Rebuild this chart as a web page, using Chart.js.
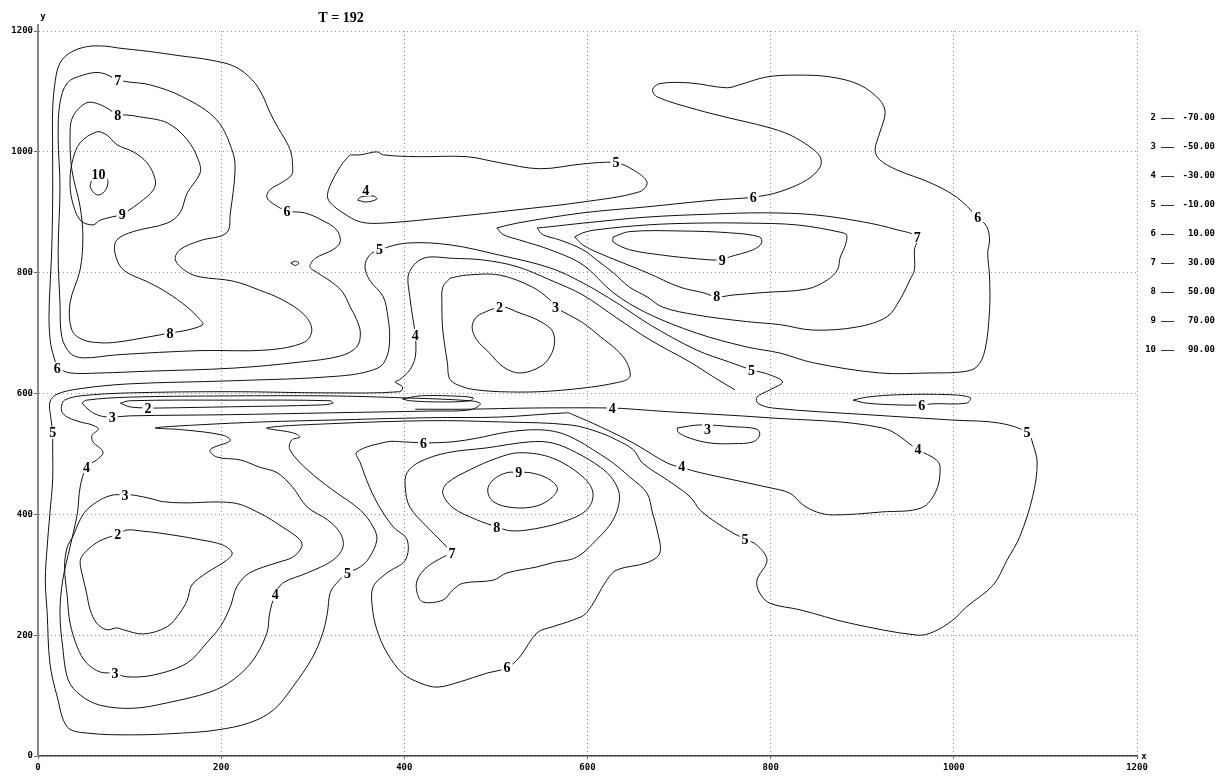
<!DOCTYPE html>
<html>
<head>
<meta charset="utf-8">
<script src="https://cdn.jsdelivr.net/npm/chart.js@4.4.0/dist/chart.umd.min.js"></script>
<style>
  html, body { margin: 0; padding: 0; background: #fff; }
</style>
</head>
<body>
<canvas id="chart" width="1226" height="777"></canvas>
<script>
// contour levels and the values they stand for
const levels = [2, 3, 4, 5, 6, 7, 8, 9, 10];
const levelValues = ["-70.00", "-50.00", "-30.00", "-10.00", "10.00", "30.00", "50.00", "70.00", "90.00"];
const titleText = "T = 192";

// contour lines, [x, y] in data units
const c6TopLeft = [[21,642],[19,652],[14,681],[12,723],[13,773],[15,839],[16,921],[16,1003],[16,1070],[19,1119],[24,1147],[35,1164],[53,1174],[73,1175],[87,1172],[122,1166],[155,1159],[188,1152],[215,1141],[234,1119],[245,1094],[253,1066],[262,1040],[270,1020],[276,1000],[278,978],[277,962],[266,949],[253,937],[250,924],[259,912],[272,902],[291,899],[310,887],[326,871],[330,851],[322,838],[303,824],[297,810],[305,800],[322,783],[333,767],[341,743],[348,722],[352,700],[348,677],[330,662],[286,652],[213,642],[122,637],[68,634],[35,634]];
const c7TopLeft = [[87,1119],[97,1116],[122,1111],[158,1091],[195,1053],[213,998],[215,965],[210,899],[206,866],[177,853],[155,838],[150,821],[163,801],[177,793],[213,786],[242,771],[267,755],[291,730],[299,705],[291,685],[250,672],[177,671],[86,664],[49,659],[35,667],[26,694],[24,750],[22,833],[24,942],[22,1025],[24,1081],[32,1114],[49,1127],[68,1131]];
const c8TopLeft = [[87,1061],[97,1061],[111,1058],[141,1048],[163,1020],[175,987],[177,965],[163,932],[155,899],[141,882],[104,868],[86,854],[84,833],[93,805],[122,783],[141,767],[163,743],[177,722],[180,714],[163,705],[144,700],[122,694],[86,685],[68,684],[49,689],[37,705],[35,750],[46,805],[49,859],[46,909],[37,970],[35,1025],[38,1058],[53,1081],[68,1078]];
const c9TopLeft = [[92,896],[97,901],[111,916],[126,937],[128,954],[119,982],[104,1000],[86,1012],[75,1028],[64,1033],[46,1015],[38,987],[35,954],[37,921],[46,887],[60,879],[68,887]];
const c10TopLeft = [[59,954],[57,942],[64,929],[71,932],[76,945],[75,957],[66,960]];
const cTiny = [[276,816],[281,819],[285,816],[281,812]];
const c4Small = [[349,920],[359,917],[370,922],[366,927],[352,925]];
const c5Upper = [[341,995],[352,995],[370,1000],[377,995],[414,992],[468,992],[504,982],[548,972],[595,980],[631,982],[650,970],[665,950],[657,934],[595,917],[523,904],[450,892],[377,882],[352,884],[333,899],[319,916],[316,929],[322,954],[333,982]];
const c6UpperRight = [[501,874],[523,882],[595,899],[665,909],[737,920],[781,925],[810,934],[840,954],[854,975],[854,992],[843,1008],[821,1028],[796,1041],[755,1056],[719,1070],[676,1091],[671,1103],[679,1113],[712,1114],[752,1106],[766,1111],[796,1124],[829,1127],[865,1124],[897,1111],[919,1086],[925,1065],[919,1031],[914,1003],[919,987],[938,970],[974,949],[1003,925],[1026,892],[1036,876],[1039,854],[1037,833],[1039,793],[1039,738],[1034,672],[1025,644],[1010,636],[974,634],[919,634],[846,651],[810,667],[774,677],[719,700],[665,733],[628,767],[595,813],[559,838],[526,854],[508,863]];
const c7Right = [[545,874],[559,876],[595,882],[665,892],[737,897],[791,899],[846,896],[901,884],[938,871],[960,859],[957,838],[957,805],[952,788],[941,755],[927,727],[894,710],[846,705],[810,714],[774,719],[719,730],[682,743],[665,760],[646,776],[628,800],[610,821],[595,838],[570,854],[551,863]];
const c8Right = [[586,859],[595,866],[610,871],[665,879],[719,882],[774,882],[829,879],[876,867],[883,862],[881,843],[876,826],[873,805],[862,788],[840,773],[791,767],[759,763],[741,760],[726,767],[701,776],[665,800],[639,816],[610,834],[595,846]];
const c9Right = [[628,859],[646,868],[701,869],[755,866],[788,859],[790,849],[781,838],[755,826],[747,821],[719,823],[682,829],[646,838],[628,851]];
const c2Mid = [[493,738],[479,727],[474,710],[479,689],[493,667],[508,644],[526,634],[548,644],[559,661],[564,684],[561,705],[545,722],[523,735],[512,742],[504,743]];
const c3Mid = [[450,791],[468,796],[504,796],[540,776],[559,755],[565,743],[595,717],[614,694],[632,672],[643,651],[646,627],[632,618],[595,609],[548,603],[504,603],[479,606],[464,611],[450,623],[447,651],[442,705],[441,750],[442,776]];
const c5Big = [[779,639],[755,652],[719,672],[668,714],[632,750],[595,783],[559,808],[504,829],[450,846],[403,849],[373,838],[362,829],[357,810],[362,788],[377,760],[382,727],[384,694],[381,661],[371,642],[330,629],[210,621],[100,616],[46,608],[21,599],[13,586],[14,560],[16,535],[16,512],[16,457],[13,402],[10,346],[8,291],[10,237],[13,154],[21,98],[32,48],[53,38],[104,35],[158,38],[195,43],[231,55],[257,76],[278,114],[300,164],[311,204],[316,237],[319,270],[326,286],[338,303],[352,313],[362,329],[370,358],[366,379],[352,407],[322,440],[294,474],[275,507],[277,523],[286,528],[278,535],[250,543],[319,550],[428,555],[504,553],[581,548],[614,535],[632,523],[650,507],[660,485],[687,457],[712,429],[723,407],[741,386],[759,369],[772,359],[785,349],[796,324],[785,291],[788,270],[799,253],[832,242],[886,220],[960,200],[977,205],[999,225],[1014,247],[1043,283],[1058,324],[1072,363],[1086,429],[1091,485],[1086,518],[1081,535],[1050,551],[999,556],[905,565],[802,576],[786,584],[785,594],[799,606],[813,619],[799,631]];
const c4Long = [[761,606],[739,626],[712,652],[668,689],[632,725],[595,763],[559,788],[523,810],[486,821],[450,824],[428,826],[417,821],[409,810],[404,793],[406,760],[409,727],[412,697],[412,661],[406,639],[395,623],[390,619],[398,611],[395,603],[319,601],[210,603],[100,601],[46,596],[29,589],[26,581],[26,570],[32,561],[46,553],[59,548],[66,541],[59,531],[60,520],[71,503],[64,490],[53,478],[46,445],[43,402],[35,346],[27,291],[24,237],[27,180],[33,126],[46,101],[68,84],[104,79],[141,88],[188,106],[213,126],[235,159],[250,204],[253,237],[259,267],[267,286],[294,303],[322,324],[333,346],[330,369],[316,391],[294,412],[278,445],[261,469],[242,478],[221,490],[195,495],[188,507],[210,522],[202,531],[158,540],[128,543],[174,548],[246,553],[319,556],[428,560],[504,561],[578,568],[584,565],[614,545],[650,518],[687,485],[704,477],[723,469],[796,445],[821,435],[835,416],[850,404],[868,399],[922,404],[965,411],[981,440],[985,478],[981,490],[961,507],[922,543],[796,560],[687,570],[650,574],[627,576],[540,576],[468,574],[412,574]];
const c3Band = [[48,584],[53,589],[100,594],[210,596],[319,596],[395,593],[472,588],[483,583],[472,573],[428,571],[319,568],[210,565],[100,563],[81,561],[68,563],[57,571]];
const c2Band = [[90,584],[100,588],[210,589],[319,588],[322,584],[308,581],[210,578],[133,576],[120,576],[100,578]];
const cBandLoop = [[398,591],[417,596],[450,596],[475,593],[472,588],[439,586],[406,588]];
const c2LowLeft = [[87,366],[97,374],[115,372],[133,369],[177,358],[202,349],[212,336],[206,324],[184,303],[168,283],[163,258],[155,237],[141,214],[115,202],[93,209],[86,212],[75,209],[64,220],[57,242],[53,270],[49,296],[46,320],[49,333],[64,353],[79,363]];
const c3LowLeft = [[95,432],[104,432],[126,425],[136,421],[158,419],[213,419],[242,402],[267,379],[286,358],[288,346],[278,329],[261,320],[231,303],[217,280],[210,247],[199,214],[184,187],[163,154],[126,134],[97,131],[84,137],[68,139],[53,154],[43,180],[35,220],[32,263],[29,313],[32,346],[38,363],[46,391],[53,407],[68,424],[82,432]];
const c6Mid = [[421,518],[453,520],[479,526],[512,536],[545,540],[570,535],[592,520],[610,503],[628,485],[646,462],[665,435],[671,402],[676,374],[679,336],[665,320],[632,308],[621,291],[599,237],[584,225],[562,214],[545,204],[526,164],[512,146],[490,137],[461,123],[436,114],[417,121],[398,137],[381,171],[370,209],[365,247],[366,280],[381,303],[401,324],[403,358],[388,379],[373,412],[362,445],[352,485],[348,503],[381,520],[398,520]];
const c7Mid = [[452,336],[442,353],[425,379],[406,412],[401,445],[403,469],[417,487],[447,502],[490,510],[537,520],[562,518],[588,502],[614,478],[628,457],[635,429],[628,391],[610,358],[588,329],[562,320],[545,313],[512,303],[497,291],[464,286],[453,275],[442,258],[420,255],[414,270],[414,291],[425,313],[442,329]];
const c8Mid = [[501,379],[479,391],[453,411],[442,435],[447,452],[472,474],[501,493],[526,502],[562,493],[595,462],[606,435],[599,407],[570,386],[534,374],[515,373]];
const c9Mid = [[525,469],[512,469],[497,457],[491,440],[497,421],[519,411],[545,414],[562,429],[567,444],[556,460],[537,469]];
const c3Right = [[698,543],[723,548],[759,545],[785,541],[788,531],[781,520],[759,517],[734,518],[712,526],[699,536]];
const c6Right = [[890,589],[905,594],[941,598],[996,598],[1018,593],[1014,584],[977,583],[965,581],[941,581],[905,584]];

// which lines are closed loops
const closedLines = [c6TopLeft, c7TopLeft, c8TopLeft, c9TopLeft, c10TopLeft, cTiny, c4Small, c5Upper,
  c6UpperRight, c7Right, c8Right, c9Right, c2Mid, c3Mid, c5Big, c3Band, c2Band, cBandLoop,
  c2LowLeft, c3LowLeft, c6Mid, c7Mid, c8Mid, c9Mid, c3Right, c6Right];
const openLines = [c4Long];

// contour labels: level and position
const labelLevel = [6,7,8,10,9,6,8,4,5,6,6,7,9,8,5,4,2,3,5,2,3,4,6,3,5,5,6,4,4,4,9,3,8,2,5,7,5,4,3,6];
const labelX = [21,87,87,66,92,272,144,358,631,781,1026,960,747,741,373,412,504,565,779,120,81,627,965,731,16,1080,421,961,53,703,525,95,501,87,772,452,338,259,84,512];
const labelY = [642,1119,1061,962,896,902,700,937,982,925,892,859,821,760,838,697,743,743,639,576,561,576,581,541,535,536,518,507,478,479,469,432,379,366,359,336,303,267,137,146];

function toPoints(arr, closed) {
  const pts = arr.map(p => ({ x: p[0], y: p[1] }));
  if (closed) pts.push({ x: arr[0][0], y: arr[0][1] });
  return pts;
}

function lineSet(arr, closed) {
  return {
    data: toPoints(arr, closed),
    showLine: true,
    borderColor: "#111",
    backgroundColor: "#111",
    borderWidth: 1,
    pointRadius: 0,
    tension: 0.35,
    fill: false
  };
}

const datasets = [];
closedLines.forEach(a => datasets.push(lineSet(a, true)));
openLines.forEach(a => datasets.push(lineSet(a, false)));

// labels, title, legend
const annotate = {
  id: "annotate",
  afterDatasetsDraw(chart) {
    const ctx = chart.ctx;
    const xs = chart.scales.x, ys = chart.scales.y;
    ctx.save();
    ctx.font = "bold 14px 'Liberation Serif'";
    ctx.textAlign = "center";
    ctx.textBaseline = "middle";
    labelLevel.forEach((lv, i) => {
      const px = xs.getPixelForValue(labelX[i]);
      const py = ys.getPixelForValue(labelY[i]);
      const t = String(lv);
      const w = ctx.measureText(t).width;
      ctx.fillStyle = "#fff";
      ctx.fillRect(px - w / 2 - 2, py - 6, w + 4, 12);
      ctx.fillStyle = "#000";
      ctx.fillText(t, px, py + 1);
    });

    // title
    ctx.font = "bold 14px 'Liberation Serif'";
    ctx.fillText(titleText, 341, 18);

    // axis names
    ctx.font = "bold 9px 'DejaVu Sans Mono'";
    ctx.fillText("y", xs.left + 5, 17);
    ctx.fillText("x", xs.right + 7, ys.bottom + 1);

    // little axis extension above the top
    ctx.strokeStyle = "#888";
    ctx.lineWidth = 2;
    ctx.beginPath();
    ctx.moveTo(xs.left, ys.top);
    ctx.lineTo(xs.left, ys.top - 7);
    ctx.stroke();

    // level legend on the right
    ctx.font = "bold 9px 'DejaVu Sans Mono'";
    ctx.fillStyle = "#000";
    levels.forEach((lv, i) => {
      const yy = 118 + i * 29;
      ctx.textAlign = "right";
      ctx.fillText(String(lv), 1156, yy);
      ctx.fillText(levelValues[i], 1215, yy);
      ctx.strokeStyle = "#333";
      ctx.lineWidth = 1;
      ctx.beginPath();
      ctx.moveTo(1161, yy + 0.5);
      ctx.lineTo(1174, yy + 0.5);
      ctx.stroke();
    });
    ctx.restore();
  }
};

const tickFont = { family: "DejaVu Sans Mono", size: 9, weight: "bold" };
const plainTick = v => String(v);

new Chart(document.getElementById("chart").getContext("2d"), {
  type: "scatter",
  data: { datasets: datasets },
  options: {
    responsive: false,
    animation: false,
    events: [],
    layout: { padding: { left: 0, right: 89, top: 31, bottom: 0 } },
    plugins: {
      legend: { display: false },
      tooltip: { enabled: false },
      colors: { enabled: false }
    },
    scales: {
      x: {
        type: "linear",
        min: 0,
        max: 1200,
        afterFit: s => { s.height = 21; },
        ticks: { stepSize: 200, color: "#000", font: tickFont, padding: 3, maxRotation: 0, callback: plainTick },
        grid: { color: "#999", tickLength: 3, tickColor: "#666" },
        border: { color: "#444", width: 1.5, dash: [1, 3] }
      },
      y: {
        type: "linear",
        min: 0,
        max: 1200,
        afterFit: s => { s.width = 38; },
        ticks: { stepSize: 200, color: "#000", font: tickFont, padding: 1, callback: plainTick },
        grid: { color: "#999", tickLength: 4, tickColor: "#666" },
        border: { color: "#888", width: 2, dash: [1, 3] }
      }
    }
  },
  plugins: [annotate]
});
</script>
</body>
</html>
